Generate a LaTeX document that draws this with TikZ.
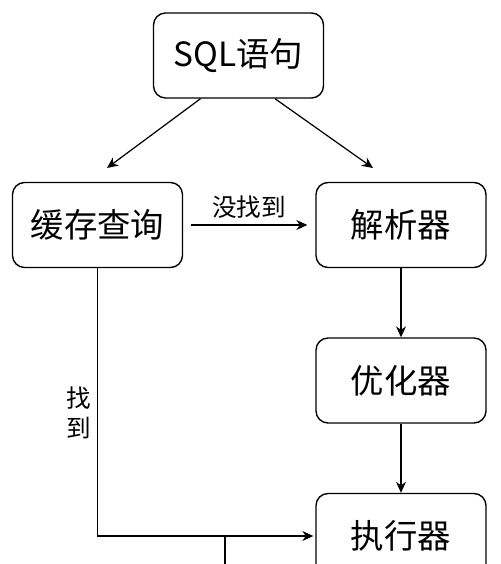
\documentclass[tikz,border=0pt]{standalone}
\usepackage{fontspec}
\setmainfont{Noto Sans CJK SC}
\usetikzlibrary{arrows.meta}
\tikzset{
  box/.style = {draw, rounded corners = 0.24cm, minimum width = 3.4cm, minimum height = 1.7cm,
                line width = 0.8pt, font = \fontsize{19}{19}\selectfont},
  flow/.style = {-{Stealth[length = 0.22cm, width = 0.2cm]}, line width = 0.7pt}
}
\begin{document}
\begin{tikzpicture}[x = 0.02cm, y = -0.02cm]
                \useasboundingbox (0, 0) rectangle (500, 564);
                \node[box] (sql) at (238.5, 55.5) {SQL语句};
                \node[box] (cache) at (97.5, 225) {缓存查询};
                \node[box] (parser) at (401, 225) {解析器};
                \node[box] (optim) at (401, 380.5) {优化器};
                \node[box] (exec) at (401, 536) {执行器};
                \coordinate (toCache) at (107, 168);
                \coordinate (toParser) at (373, 168);
                \coordinate (low) at (225, 580);
                \draw[flow] ([xshift = -0.76cm]sql.south) -- (toCache);
                \draw[flow] ([xshift = 0.73cm]sql.south) -- (toParser);
                \draw[flow, shorten < = 0.16cm, shorten > = 0.16cm] (cache) -- (parser)
                    node[midway, above, font = \fontsize{14}{14}\selectfont] {没找到};
                \draw[flow] (parser) -- (optim);
                \draw[flow] (optim) -- (exec);
                \draw[flow, shorten > = 0.04cm] (cache) |- (exec)
                    node[pos = 0.27, left, align = center, font = \fontsize{14}{17}\selectfont] {找\\到};
                \draw[line width = 0.7pt] (low) -- (low |- exec);
            \end{tikzpicture}
\end{document}
